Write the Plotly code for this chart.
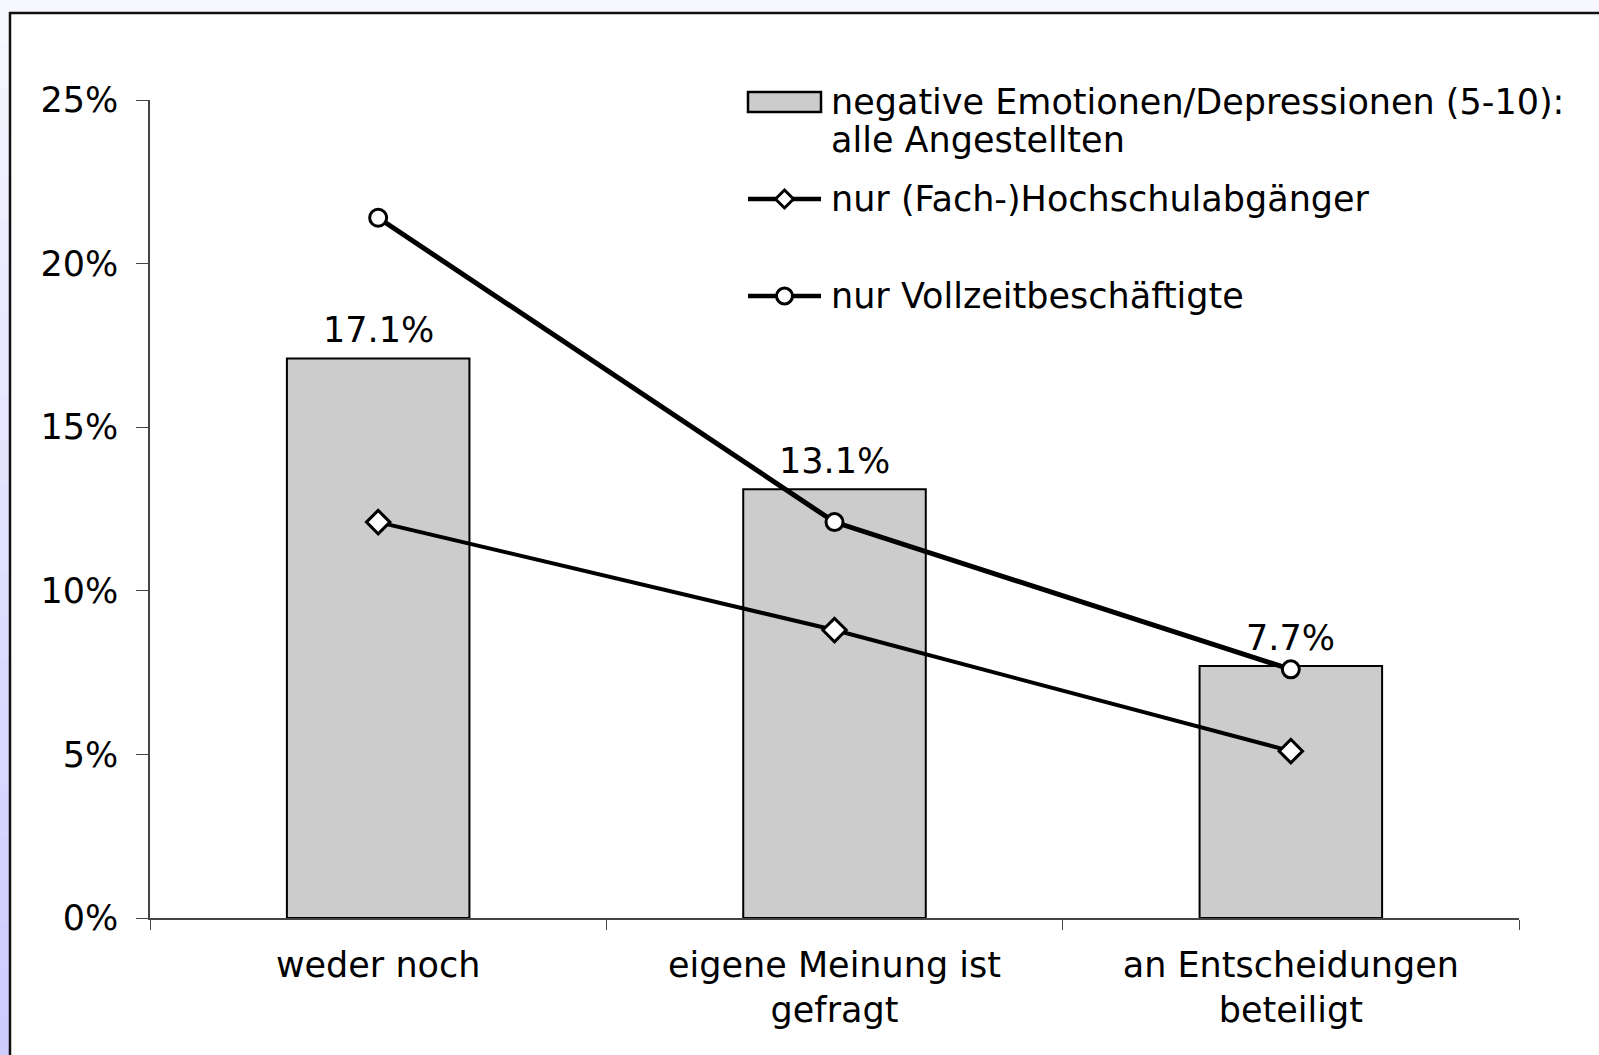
import plotly.graph_objects as go

# Data
categories = ["weder noch", "eigene Meinung ist<br>gefragt", "an Entscheidungen<br>beteiligt"]
alle_angestellten = [17.1, 13.1, 7.7]
hochschulabgaenger = [12.1, 8.8, 5.1]
vollzeit = [21.4, 12.1, 7.6]
y_ticks = [0, 5, 10, 15, 20, 25]
y_tick_labels = ["0%", "5%", "10%", "15%", "20%", "25%"]

legend_labels = [
    ["negative Emotionen/Depressionen (5-10):", "alle Angestellten"],
    ["nur (Fach-)Hochschulabgänger"],
    ["nur Vollzeitbeschäftigte"],
]

FONT = "DejaVu Sans"
FS = 35

# Figure geometry (pixels)
W, H = 1599, 1055
L, R, T, B = 150, 80, 100, 137
PW, PH = W - L - R, H - T - B


def px(x):
    return (x - L) / PW


def py(y):
    return (H - B - y) / PH


fig = go.Figure()

fig.add_trace(go.Bar(
    x=categories, y=alle_angestellten, width=0.4,
    marker=dict(color="#cccccc", line=dict(color="black", width=2)),
    showlegend=False,
))

fig.add_trace(go.Scatter(
    x=categories, y=hochschulabgaenger, mode="lines+markers",
    line=dict(color="black", width=4),
    marker=dict(symbol="diamond", size=18, color="white", line=dict(color="black", width=3)),
    showlegend=False, cliponaxis=False,
))

fig.add_trace(go.Scatter(
    x=categories, y=vollzeit, mode="lines+markers",
    line=dict(color="black", width=5),
    marker=dict(symbol="circle", size=17, color="white", line=dict(color="black", width=3)),
    showlegend=False, cliponaxis=False,
))

shapes = []

# page decoration: light lavender top band, gradient strip on the left
shapes.append(dict(type="rect", xref="paper", yref="paper", layer="below",
                   x0=px(0), x1=px(W), y0=py(0), y1=py(12),
                   fillcolor="#f7f7ff", line=dict(width=0)))
steps = 24
for i in range(steps):
    t = i / (steps - 1)
    r = int(247 - t * (247 - 204))
    g = int(247 - t * (247 - 204))
    shapes.append(dict(type="rect", xref="paper", yref="paper", layer="below",
                       x0=px(0), x1=px(9),
                       y0=py(H * i / steps), y1=py(H * (i + 1) / steps + 1),
                       fillcolor=f"rgb({r},{g},255)", line=dict(width=0)))
# frame lines
shapes.append(dict(type="line", xref="paper", yref="paper",
                   x0=px(9), x1=px(W), y0=py(13), y1=py(13),
                   line=dict(color="#111111", width=2.5)))
shapes.append(dict(type="line", xref="paper", yref="paper",
                   x0=px(10), x1=px(10), y0=py(12), y1=py(H),
                   line=dict(color="#111111", width=2.5)))

# legend symbols
lx0, lx1 = 748, 821
lcx = (lx0 + lx1) / 2
leg_y = [102, 199, 296]
shapes.append(dict(type="rect", xref="paper", yref="paper",
                   x0=px(lx0), x1=px(lx1), y0=py(leg_y[0] - 10), y1=py(leg_y[0] + 10),
                   fillcolor="#cccccc", line=dict(color="black", width=2.5)))
for yy in leg_y[1:]:
    shapes.append(dict(type="line", xref="paper", yref="paper",
                       x0=px(lx0), x1=px(lx1), y0=py(yy), y1=py(yy),
                       line=dict(color="black", width=4.5)))
shapes.append(dict(type="path", xref="paper", yref="paper",
                   xsizemode="pixel", ysizemode="pixel",
                   xanchor=px(lcx), yanchor=py(leg_y[1]),
                   path="M -9,0 L 0,9 L 9,0 L 0,-9 Z",
                   fillcolor="white", line=dict(color="black", width=3)))
shapes.append(dict(type="circle", xref="paper", yref="paper",
                   xsizemode="pixel", ysizemode="pixel",
                   xanchor=px(lcx), yanchor=py(leg_y[2]),
                   x0=-8, x1=8, y0=-8, y1=8,
                   fillcolor="white", line=dict(color="black", width=3)))

annotations = []
line_gap = 38
for lines, yy in zip(legend_labels, leg_y):
    for k, txt in enumerate(lines):
        annotations.append(dict(
            text=txt, xref="paper", yref="paper", x=px(829), y=py(yy + k * line_gap),
            xanchor="left", yanchor="middle", showarrow=False, align="left",
            font=dict(family=FONT, size=FS, color="black"),
        ))

# value labels above the bars
for cat, val in zip(categories, alle_angestellten):
    annotations.append(dict(
        text=f"{val:.1f}%", x=cat, y=val, xref="x", yref="y",
        xanchor="center", yanchor="bottom", yshift=6, showarrow=False,
        font=dict(family=FONT, size=FS, color="black"),
    ))

fig.update_layout(
    width=W, height=H,
    margin=dict(l=L, r=R, t=T, b=B),
    paper_bgcolor="white", plot_bgcolor="white",
    font=dict(family=FONT, size=FS, color="black"),
    showlegend=False,
    shapes=shapes, annotations=annotations,
    bargap=0.6,
    xaxis=dict(
        type="category", showline=True, linecolor="#444444", linewidth=1.5,
        ticks="outside", tickson="boundaries", ticklen=10, tickcolor="#444444",
        showgrid=False, zeroline=False, automargin=False,
        tickfont=dict(family=FONT, size=FS, color="black"),
        ticklabelstandoff=15,
    ),
    yaxis=dict(
        range=[0, 25], tickmode="array", tickvals=y_ticks, ticktext=y_tick_labels,
        showline=True, linecolor="#444444", linewidth=1.5,
        ticks="outside", ticklen=12, tickcolor="#444444",
        showgrid=False, zeroline=False, automargin=False,
        tickfont=dict(family=FONT, size=FS, color="black"),
        ticklabelstandoff=11,
    ),
)

fig.write_html("out.html", config={"displayModeBar": False},
               post_script="document.body.style.margin='0';")
